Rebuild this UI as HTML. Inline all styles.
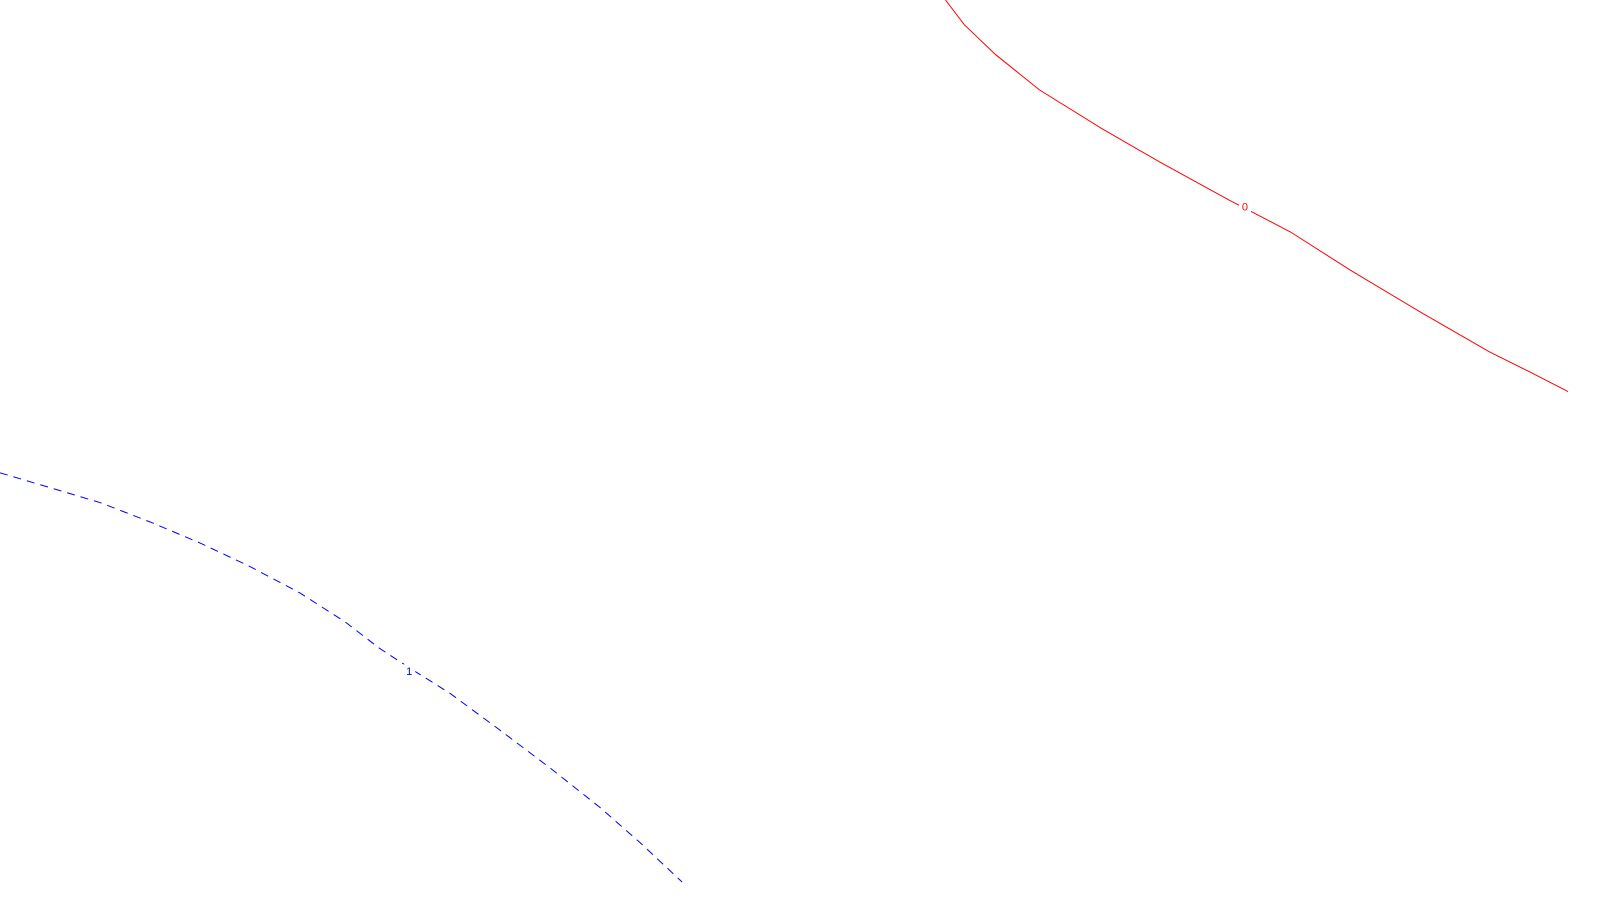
<!DOCTYPE html>
<html><head><meta charset="utf-8"><style>
html,body{margin:0;padding:0;background:#fff;width:1600px;height:900px;overflow:hidden}
</style></head><body>
<svg id="chart" width="1600" height="900" xmlns="http://www.w3.org/2000/svg"></svg>
<script>
const redX=[60.3,61.5,63.5,66.3,70.2,74,78.4,82.3,86.1,90.6,95,97.6,100];
const redY=[100,97.2,93.8,89.8,85.5,81.6,77.3,73.7,69.4,64.6,60.1,57.8,55.6];
const blueX=[0,3.2,6.4,9.6,12.8,15.9,19.1,22,24.2,26.1,28.7,31.9,35.1,38.3,40.8,43.5];
const blueY=[46.4,44.7,43,40.8,38.4,35.8,32.8,29.5,26.5,24.3,21.4,17.2,12.9,8.4,4.5,0];
const levelLabels=["0","1"];
const labelPos=[[79.4,76.6],[26.1,23.9]];
const W=1568,H=882;
const sx=v=>v/100*W, sy=v=>H-v/100*H;
const svg=document.getElementById('chart');
const NS='http://www.w3.org/2000/svg';
function path(xs,ys,color,dash,name){
  const p=document.createElementNS(NS,'path');
  let d='';
  xs.forEach((x,i)=>{d+=(i?'L':'M')+sx(x).toFixed(1)+','+sy(ys[i]).toFixed(1);});
  p.setAttribute('d',d);p.setAttribute('fill','none');p.setAttribute('stroke',color);
  p.setAttribute('stroke-width','1');
  if(dash)p.setAttribute('stroke-dasharray',dash);
  
  
  svg.appendChild(p);
}
path(redX,redY,'#ff0000',null,'contour-level-0');
path(blueX,blueY,'#0000ff','8,6','contour-level-1');
const colors=['#ff0000','#0000ff'];
levelLabels.forEach((t,i)=>{
  const bg=document.createElementNS(NS,'rect');
  bg.setAttribute('x',sx(labelPos[i][0])-6);bg.setAttribute('y',sy(labelPos[i][1])-7);
  bg.setAttribute('width',12);bg.setAttribute('height',14);bg.setAttribute('fill','#fff');
  
  
  svg.appendChild(bg);
  const tx=document.createElementNS(NS,'text');
  tx.setAttribute('x',sx(labelPos[i][0]));tx.setAttribute('y',sy(labelPos[i][1])+4);
  tx.setAttribute('text-anchor','middle');tx.setAttribute('font-size','11');
  tx.setAttribute('font-family','Liberation Sans, sans-serif');tx.setAttribute('fill',colors[i]);
  tx.textContent=t;
  
  
  svg.appendChild(tx);
});
</script>
</body></html>
